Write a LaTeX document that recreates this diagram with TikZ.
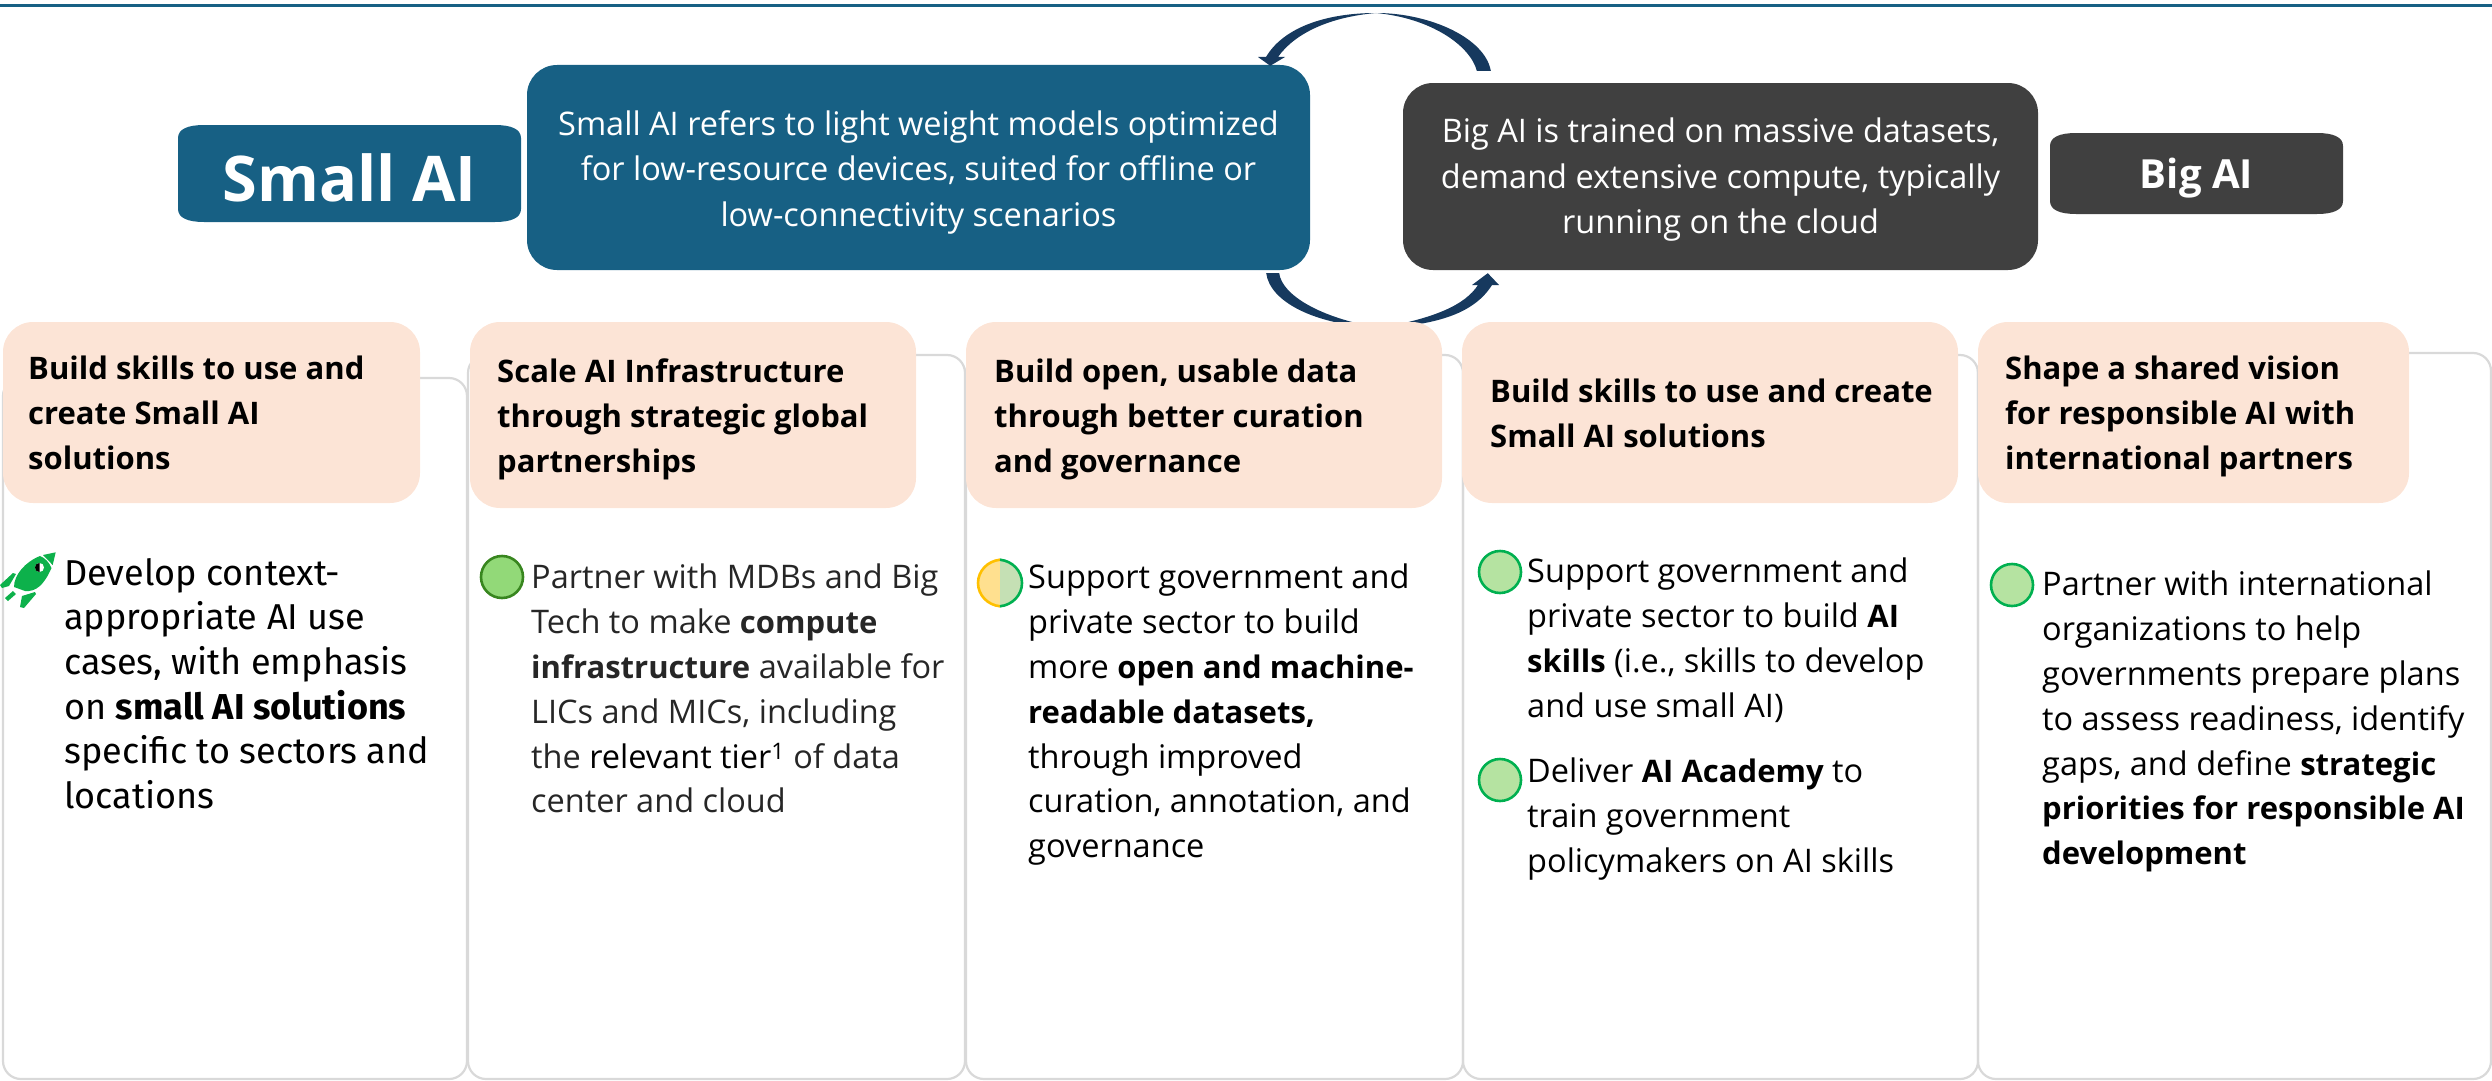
\documentclass[tikz,border=0pt]{standalone}
\usepackage{fontspec}
\setmainfont{Open Sans}[BoldFeatures={Scale=0.955}]
\newfontfamily\aptosfam{Fira Sans}
\usetikzlibrary{shapes.geometric}
\definecolor{tealc}{HTML}{176084}
\definecolor{darkc}{HTML}{404040}
\definecolor{peach}{HTML}{FCE4D6}
\definecolor{cardline}{HTML}{D9D9D9}
\definecolor{arrowA}{HTML}{16395E}
\definecolor{rocket}{HTML}{0DB14B}
\definecolor{dotfill}{HTML}{B5E3A1}
\definecolor{dotline}{HTML}{00B050}
\definecolor{dotfillB}{HTML}{92D978}
\definecolor{dotlineB}{HTML}{38861F}
\definecolor{halfY}{HTML}{FFE08F}
\definecolor{halfYl}{HTML}{FFC000}
\definecolor{halfG}{HTML}{C5E0B4}
\definecolor{greytext}{HTML}{262626}
\newcommand{\topfix}{\rule{0pt}{24pt}}
\newcommand{\labelshape}[5]{%
  \fill[#5] ({#1+26},#2) -- ({#3-26},#2) .. controls ({#3-10},#2) and (#3,{#2+4}) .. (#3,{#2+13})
    -- (#3,{#4-13}) .. controls (#3,{#4-4}) and ({#3-10},#4) .. ({#3-26},#4)
    -- ({#1+26},#4) .. controls ({#1+10},#4) and (#1,{#4-4}) .. (#1,{#4-13})
    -- (#1,{#2+13}) .. controls (#1,{#2+4}) and ({#1+10},#2) .. ({#1+26},#2) -- cycle;}
\tikzset{
  x=1pt,y=-1pt,
  solidbox/.style={fill=#1,draw=none,rounded corners=30pt,inner sep=0pt},
  labeltext/.style={inner sep=0pt,text=white},
  peachbox/.style={fill=peach,draw=none,rounded corners=30pt,inner sep=0pt},
  cardstyle/.style={draw=cardline,line width=2.2pt,rounded corners=18pt},
  boxtext/.style={white,align=center,font=\fontsize{32.5}{45.5}\selectfont,inner sep=0pt},
  headtext/.style={black,anchor=north west,align=left,inner sep=0pt,font=\fontsize{32.5}{45}\selectfont\bfseries},
  bodytext/.style={black,anchor=north west,align=left,inner sep=0pt,font=\fontsize{32.5}{44.8}\selectfont},
  dotbul/.style={circle,inner sep=0pt,line width=2.6pt,draw=dotline,fill=dotfill,minimum size=42pt},
}
\begin{document}
\begin{tikzpicture}
\useasboundingbox (0,0) rectangle (2492,1081);
\fill[tealc] (0,3.8) rectangle (2492,6.6);
% cards
\draw[cardstyle] (3,378) rectangle (467,1079);
\draw[cardstyle] (468,355) rectangle (965,1079);
\draw[cardstyle] (966,355) rectangle (1463,1079);
\draw[cardstyle] (1463,355) rectangle (1978,1079);
\draw[cardstyle] (1978,353) rectangle (2491,1079);
% header boxes
\node[solidbox=tealc,minimum width=783pt,minimum height=205pt] (smalldesc) at (918.5,167.5) {};
\node[solidbox=darkc,minimum width=635pt,minimum height=187pt] (bigdesc) at (1720.5,176.5) {};
\labelshape{178}{125}{521}{222}{tealc}
\labelshape{2050}{133}{2343}{214}{darkc}
\node[labeltext,font=\fontsize{66}{70}\selectfont\bfseries] (smalllabel) at (349.5,178) {Small AI};
\node[labeltext,font=\fontsize{42}{46}\selectfont\bfseries] (biglabel) at (2196.5,178) {Big AI};
\node[boxtext] (smalltext) at (918.5,172) {Small AI refers to light weight models optimized\\for low-resource devices, suited for offline or\\low-connectivity scenarios};
\node[boxtext] (bigtext) at (1720.5,180) {Big AI is trained on massive datasets,\\demand extensive compute, typically\\running on the cloud};
% curved arrows (tapered)
\coordinate (ta) at ([shift={(74,-12)}]bigdesc.north west);
\coordinate (tb) at ([shift={(88,-12)}]bigdesc.north west);
\coordinate (tt) at ([shift={(-40,1)}]smalldesc.north east);
\coordinate (ba) at ([shift={(-44,3)}]smalldesc.south east);
\coordinate (bb) at ([shift={(-31,3)}]smalldesc.south east);
\coordinate (bt) at ([shift={(85,3)}]bigdesc.south west);
\fill[arrowA] (tb) .. controls (1485,38) and (1430,13) .. (1376,13)
  .. controls (1325,13) and (1283,28) .. (1266,57) -- (1258,57) -- (tt) -- (1285,57) -- (1278,57)
  .. controls (1295,33) and (1330,17) .. (1376,13)
  .. controls (1430,18) and (1470,45) .. (ta) -- cycle;
\fill[arrowA] (ba) -- (bb)
  .. controls (1282,295) and (1320,318) .. (1380,328)
  .. controls (1435,318) and (1465,305) .. (1478,285) -- (1472,285) -- (bt) -- (1499,285) -- (1492,285)
  .. controls (1475,312) and (1440,325) .. (1380,328)
  .. controls (1315,325) and (1270,302) .. (ba) -- cycle;
% peach headers
\node[peachbox,minimum width=417pt,minimum height=181pt] (p1) at (211.5,412.5) {};
\node[peachbox,minimum width=446pt,minimum height=186pt] (p2) at (693,415) {};
\node[peachbox,minimum width=476pt,minimum height=186pt] (p3) at (1204,415) {};
\node[peachbox,minimum width=496pt,minimum height=181pt] (p4) at (1710,412.5) {};
\node[peachbox,minimum width=431pt,minimum height=181pt] (p5) at (2193.5,412.5) {};
\node[headtext] (h1) at (28,355) {\topfix Build skills to use and\\create Small AI\\solutions};
\node[headtext] (h2) at (497,358) {\topfix Scale AI Infrastructure\\through strategic global\\partnerships};
\node[headtext] (h3) at (994,358) {\topfix Build open, usable data\\through better curation\\and governance};
\node[headtext] (h4) at (1490,378) {\topfix Build skills to use and create\\Small AI solutions};
\node[headtext] (h5) at (2005,355) {\topfix Shape a shared vision\\for responsible AI with\\international partners};
% rocket
\fill[rocket] (43,555) -- (55.7,552.3) -- (52.7,565) -- cycle;
\fill[rocket] (40,556) .. controls (45,558) and (49,562) .. (51.5,568) .. controls (44,585) and (36,592) .. (25,591) -- (14,587) .. controls (14,575) and (25,562) .. (40,556) -- cycle;
\fill[rocket] (0,585) -- (13,573) -- (16,574) -- (9,586) -- (2,588) -- cycle;
\fill[rocket] (20,607) -- (22,596) -- (35,592) -- (36,594) -- (24,608) -- cycle;
\fill[rocket] (5,598) -- (13,591) -- (16,594) -- (8,601) -- cycle;
\fill[white] (39.5,567.5) circle (4.5);
\fill[black] (39.5,563) .. controls (36.5,563) and (35,565) .. (35,567.5) .. controls (35,570) and (36.5,572) .. (39.5,572) -- cycle;
% bullets
\node[dotbul,draw=dotlineB,fill=dotfillB] (d2) at (502,577) {};
\node[dotbul,minimum size=44pt,draw=none,fill=none] (d3) at (1000,583) {};
\filldraw[fill=halfY,draw=halfYl,line width=2.6pt] (d3.north) .. controls (987.5,561) and (978,571) .. (978,583) .. controls (978,595) and (987.5,605) .. (d3.south);
\filldraw[fill=halfG,draw=dotline,line width=2.6pt] (d3.north) .. controls (1012.5,561) and (1022,571) .. (1022,583) .. controls (1022,595) and (1012.5,605) .. (d3.south);
\node[dotbul] (d4a) at (1500,572) {};
\node[dotbul] (d4b) at (1500,780) {};
\node[dotbul] (d5) at (2012,585) {};
% body text
\node[bodytext,font=\aptosfam\fontsize{36}{44.6}\selectfont] (b1) at (64,558) {\topfix Develop context-\\appropriate AI use\\cases, with emphasis\\on \textbf{small AI solutions}\\specific to sectors and\\locations};
\node[bodytext,text=greytext] (b2) at (531,564) {\topfix Partner with MDBs and Big\\Tech to make \textbf{compute}\\\textbf{infrastructure} available for\\LICs and MICs, including\\the {\color{black}relevant tier\textsuperscript{1}} of data\\center and cloud};
\node[bodytext] (b3) at (1028,564) {\topfix Support government and\\private sector to build\\more \textbf{open and machine-}\\\textbf{readable datasets,}\\through improved\\curation, annotation, and\\governance};
\node[bodytext] (b4) at (1527,558) {\topfix Support government and\\private sector to build \textbf{AI}\\\textbf{skills} (i.e., skills to develop\\and use small AI)};
\node[bodytext] (b4b) at (1527,758) {\topfix Deliver \textbf{AI Academy} to\\train government\\policymakers on AI skills};
\node[bodytext] (b5) at (2042,571) {\topfix Partner with international\\organizations to help\\governments prepare plans\\to assess readiness, identify\\gaps, and define \textbf{strategic}\\\textbf{priorities for responsible AI}\\\textbf{development}};
\end{tikzpicture}
\end{document}
